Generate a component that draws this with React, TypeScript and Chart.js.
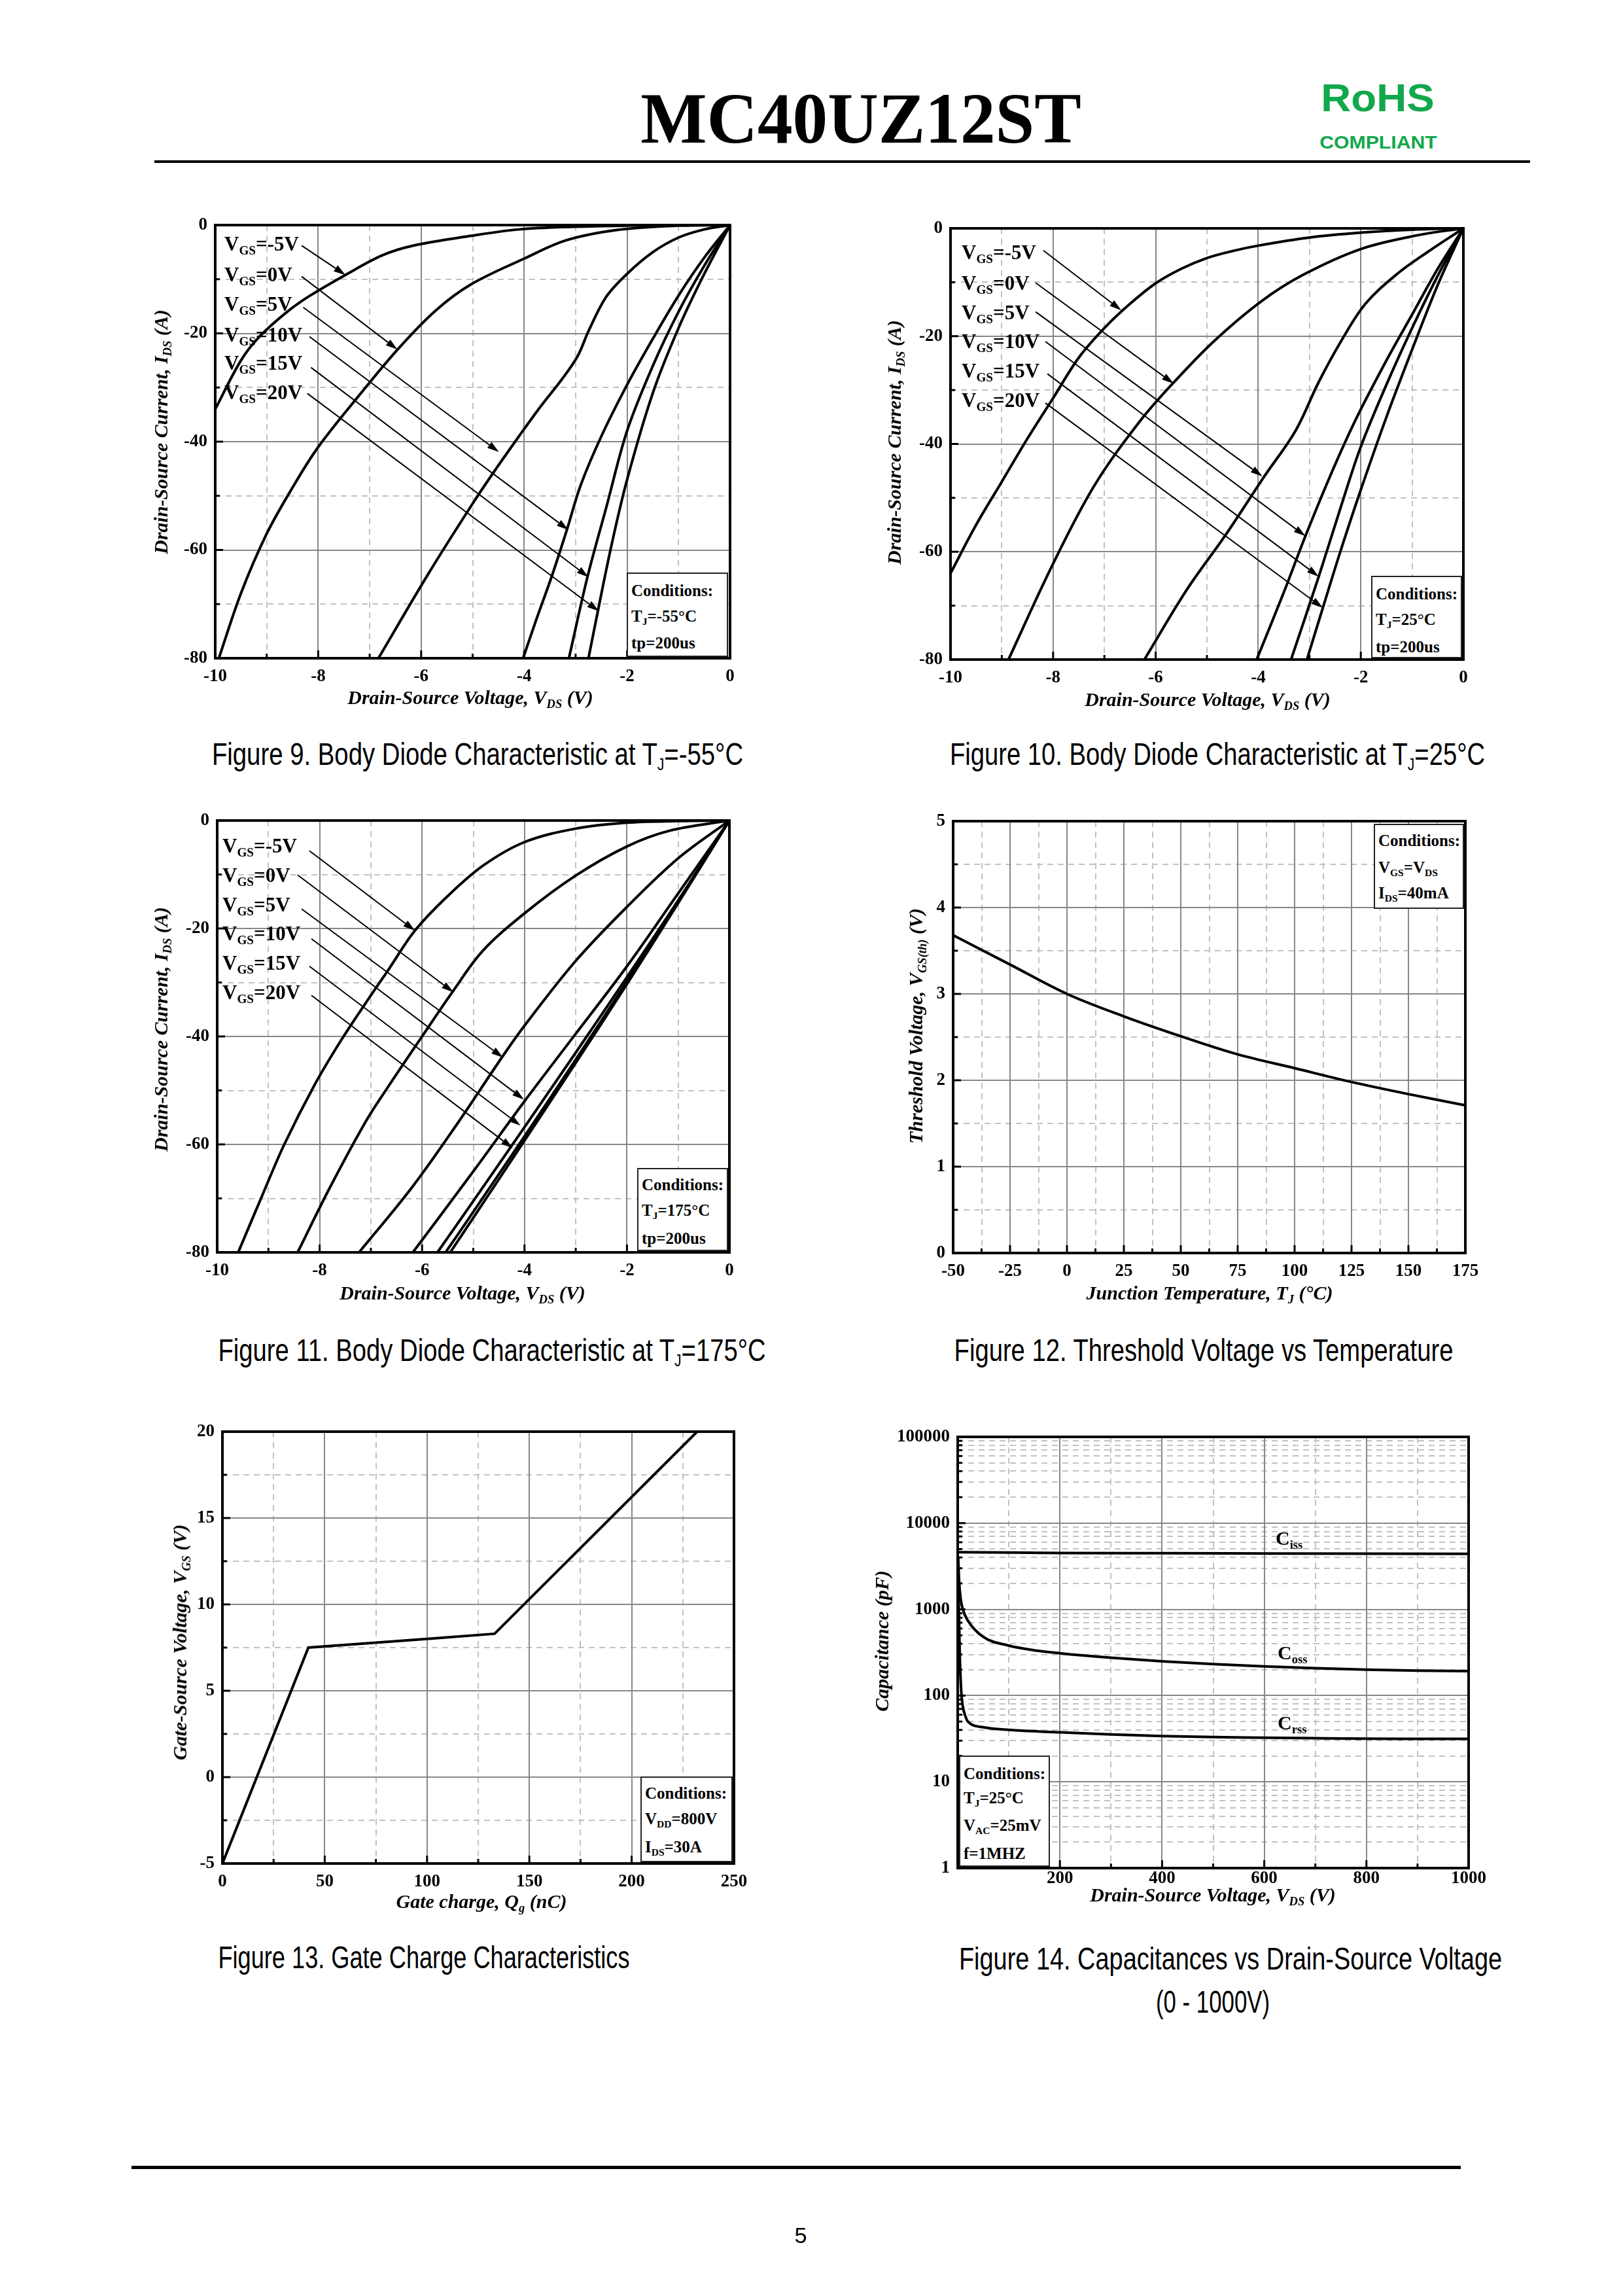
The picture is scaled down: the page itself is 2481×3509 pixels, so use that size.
import React, { useEffect, useLayoutEffect, useRef, useState } from 'react';
import { Chart, registerables } from 'chart.js';
Chart.register(...registerables);

type Pt = [number, number];

// ---------------- data ----------------
const BD_X_TICKS = [-10, -8, -6, -4, -2, 0];
const BD_X_MINOR = [-9, -7, -5, -3, -1];
const BD_Y_TICKS = [0, -20, -40, -60, -80];
const BD_Y_MINOR = [-10, -30, -50, -70];
const VGS_LABELS = ['-5V', '0V', '5V', '10V', '15V', '20V'];

// Figure 9 (Tj = -55 C)
const F9_VGS_M5: Pt[] = [[-10, -34], [-9.5, -25], [-9.14, -20.6], [-8.6, -16], [-8.17, -13.1], [-7.47, -9.2], [-6.76, -5.6], [-6.16, -3.8], [-5.04, -2.0], [-4.1, -0.8], [-3, -0.3], [-2, -0.1], [-1, -0.03], [0, 0]];
const F9_VGS_0: Pt[] = [[-9.93, -80], [-9.5, -68], [-9, -57], [-8.5, -48.5], [-8, -41], [-7.2, -31.4], [-6.46, -23], [-5.72, -15.8], [-5.04, -11], [-4, -6.2], [-3.18, -2.8], [-2.2, -0.9], [-1, -0.1], [0, 0]];
const F9_VGS_5: Pt[] = [[-6.83, -80], [-5.86, -64.4], [-4.97, -51], [-4.53, -44.8], [-4.1, -39], [-3.68, -33.5], [-3.26, -28.4], [-2.96, -24.2], [-2.75, -19.6], [-2.41, -13.3], [-2, -9], [-1.5, -5], [-1, -2.3], [-0.5, -0.8], [0, 0]];
const F9_VGS_10: Pt[] = [[-4.02, -80], [-3.75, -72.5], [-3.45, -64.5], [-3.17, -56.3], [-2.9, -48], [-2.5, -39], [-2, -29.5], [-1.5, -21], [-1, -13], [-0.5, -6], [0, 0]];
const F9_VGS_15: Pt[] = [[-3.13, -80], [-2.77, -65], [-2.4, -52], [-2, -38], [-1.5, -26], [-1, -16], [-0.5, -7.5], [0, 0]];
const F9_VGS_20: Pt[] = [[-2.75, -80], [-2.54, -70], [-2.3, -59], [-2, -47], [-1.5, -31], [-1, -19], [-0.5, -9], [0, 0]];
const F9_ARROWS = [[-8.32, -3.8, -7.47, -9.2], [-8.32, -9.5, -6.46, -23.0], [-8.29, -15.2, -4.49, -41.9], [-8.17, -20.6, -3.14, -56.3], [-8.14, -26.3, -2.75, -65], [-8.21, -31.1, -2.55, -71.3]];

// Figure 10 (Tj = 25 C)
const F10_VGS_M5: Pt[] = [[-10, -64], [-9.5, -55], [-9, -47], [-8.5, -39], [-8, -31.5], [-7.5, -24], [-7, -18.5], [-6.5, -14], [-6, -10.2], [-5.5, -7.5], [-5, -5.5], [-4.5, -4.2], [-4, -3.2], [-3, -1.7], [-2, -0.8], [-1, -0.25], [0, 0]];
const F10_VGS_0: Pt[] = [[-8.87, -80], [-8.03, -62.8], [-7.2, -47.8], [-6.3, -35.7], [-5.62, -28.3], [-4.86, -20.9], [-3.95, -13.6], [-3.12, -8.6], [-1.99, -3.8], [-0.85, -1.2], [0, 0]];
const F10_VGS_5: Pt[] = [[-6.22, -80], [-5.39, -67], [-4.63, -56.8], [-3.88, -46], [-3.27, -37.5], [-2.82, -28.5], [-2.37, -20.7], [-1.91, -14], [-1.31, -8.6], [-0.7, -4.4], [0, 0]];
const F10_VGS_10: Pt[] = [[-4.03, -80], [-3.5, -67.5], [-3.08, -57.1], [-2.6, -46], [-2.1, -35.5], [-1.5, -24.5], [-1, -16], [-0.5, -7.5], [0, 0]];
const F10_VGS_15: Pt[] = [[-3.36, -80], [-2.82, -64.6], [-2.4, -52], [-2, -40.5], [-1.5, -29], [-1, -18.5], [-0.5, -8.8], [0, 0]];
const F10_VGS_20: Pt[] = [[-3.05, -80], [-2.74, -70.4], [-2.4, -60], [-2, -48.5], [-1.5, -35], [-1, -22.5], [-0.5, -10.5], [0, 0]];
const F10_ARROWS = [[-8.19, -4.1, -6.67, -15.2], [-8.34, -10.1, -5.65, -28.8], [-8.34, -15.5, -3.92, -46], [-8.15, -21, -3.08, -57.1], [-8.11, -27, -2.82, -64.6], [-8.15, -32.4, -2.74, -70.4]];

// Figure 11 (Tj = 175 C)
const F11_VGS_M5: Pt[] = [[-9.59, -80], [-9.1, -69], [-8.69, -60], [-8.1, -49], [-7.6, -41], [-7.1, -33.8], [-6.64, -27.4], [-6.14, -20.4], [-5.5, -14], [-4.8, -8.3], [-4, -4], [-3, -1.5], [-2, -0.4], [-1, -0.1], [0, 0]];
const F11_VGS_0: Pt[] = [[-8.43, -80], [-7.8, -68], [-7.09, -55.6], [-6.64, -49], [-6, -40], [-5.41, -31.8], [-4.82, -24.2], [-4, -17.2], [-3, -10.2], [-2, -4.8], [-1.17, -1.9], [0, 0]];
const F11_VGS_5: Pt[] = [[-7.23, -80], [-6.2, -68], [-5.3, -56], [-4.45, -44], [-4, -38], [-3, -26], [-2, -16], [-1, -7], [0, 0]];
const F11_VGS_10: Pt[] = [[-6.18, -80], [-5, -65], [-4, -52], [-3, -39.5], [-2, -27], [-1, -13.5], [0, 0]];
const F11_VGS_15: Pt[] = [[-5.7, -80], [-5, -70.5], [-4, -56.8], [-3, -43], [-2, -29], [-1, -14.8], [0, 0]];
const F11_VGS_20: Pt[] = [[-5.54, -80], [-5, -72.5], [-4, -58.5], [-3, -44.3], [-2, -29.8], [-1, -15.1], [0, 0]];
const F11_VGS_20B: Pt[] = [[-5.45, -80], [-5, -73.6], [-4, -59.3], [-3, -44.9], [-2, -30.3], [-1, -15.3], [0, 0]];
const F11_ARROWS = [[-8.2, -5.6, -6.14, -20.4], [-8.43, -10.1, -5.39, -31.8], [-8.35, -16.4, -4.42, -43.9], [-8.16, -21.9, -4.01, -51.7], [-8.2, -27, -4.08, -56.5], [-8.16, -32.4, -4.23, -60.7]];

// Figure 12 threshold voltage
const F12_TEMP = [-50, -25, 0, 25, 50, 75, 100, 125, 150, 175];
const F12_VTH = [3.68, 3.34, 3.0, 2.74, 2.51, 2.3, 2.14, 1.98, 1.84, 1.71];
const F12_X_TICKS = [-50, -25, 0, 25, 50, 75, 100, 125, 150, 175];
const F12_X_MINOR = [-37.5, -12.5, 12.5, 37.5, 62.5, 87.5, 112.5, 137.5, 162.5];
const F12_Y_TICKS = [0, 1, 2, 3, 4, 5];
const F12_Y_MINOR = [0.5, 1.5, 2.5, 3.5, 4.5];

// Figure 13 gate charge
const F13_QG = [0, 42, 100, 133, 232];
const F13_VGS = [-5, 7.5, 8.0, 8.3, 20];
const F13_X_TICKS = [0, 50, 100, 150, 200, 250];
const F13_X_MINOR = [25, 75, 125, 175, 225];
const F13_Y_TICKS = [-5, 0, 5, 10, 15, 20];
const F13_Y_MINOR = [-2.5, 2.5, 7.5, 12.5, 17.5];

// Figure 14 capacitances
const F14_V_CISS = [1, 100, 200, 400, 600, 800, 1000];
const F14_CISS = [4600, 4550, 4500, 4480, 4450, 4420, 4400];
const F14_V_COSS = [1, 3, 6, 10, 20, 50, 100, 150, 200, 300, 400, 500, 600, 700, 800, 900, 1000];
const F14_COSS = [4000, 2000, 1300, 1000, 740, 480, 380, 335, 310, 275, 250, 232, 218, 208, 200, 195, 192];
const F14_V_CRSS = [1, 2, 4, 7, 10, 15, 20, 50, 100, 200, 300, 400, 500, 600, 700, 800, 900, 1000];
const F14_CRSS = [3500, 1200, 300, 110, 75, 58, 50, 43, 40, 37.5, 35.5, 34, 33, 32.5, 32, 31.6, 31.5, 31.5];
const F14_X_TICKS = [200, 400, 600, 800, 1000];
const F14_X_MINOR = [100, 300, 500, 700, 900];
const F14_Y_TICKS = [1, 10, 100, 1000, 10000, 100000];
const F14_Y_MINOR = [1, 10, 100, 1000, 10000].flatMap((d) => [2, 3, 4, 5, 6, 7, 8, 9].map((m) => m * d));

// ---------------- helpers ----------------
const SERIF = '"Liberation Serif", "Times New Roman", Times, serif';
const SANS = '"Liberation Sans", Arial, Helvetica, sans-serif';
const NARROW = '"Liberation Sans Narrow", "Arial Narrow", "Liberation Sans", Arial, sans-serif';

const PADL = 130, PADR = 40, PADT = 30, PADB = 60;

type Axis = { type?: 'linear' | 'logarithmic'; min: number; max: number; ticks: number[]; minor: number[]; pad: number };
type Series = { pts: Pt[]; mode: 'spline' | 'mono' | 'straight' };
type Cfg = { rect: [number, number, number, number]; x: Axis; y: Axis; series: Series[]; arrows?: number[][] };

const toPts = (xs: number[], ys: number[]): Pt[] => xs.map((x, i) => [x, ys[i]] as Pt);

function PlotChart({ cfg }: { cfg: Cfg }) {
  const ref = useRef<HTMLCanvasElement>(null);
  const [l, t, r, b] = cfg.rect;
  const W = r - l + PADL + PADR;
  const H = b - t + PADT + PADB;
  useEffect(() => {
    const canvas = ref.current;
    if (!canvas) return;
    const seg = (ctx: any, x1: number, y1: number, x2: number, y2: number) => {
      ctx.beginPath(); ctx.moveTo(x1, y1); ctx.lineTo(x2, y2); ctx.stroke();
    };
    const decor = {
      id: 'decor',
      beforeDatasetsDraw(chart: any) {
        const { ctx, chartArea: ca } = chart;
        const xs = chart.scales.x, ys = chart.scales.y;
        ctx.save();
        ctx.lineWidth = 2;
        ctx.setLineDash([9, 7]);
        ctx.strokeStyle = '#c2c2c2';
        cfg.x.minor.forEach((v) => { const p = Math.round(xs.getPixelForValue(v)); seg(ctx, p, ca.top, p, ca.bottom); });
        cfg.y.minor.forEach((v) => { const p = Math.round(ys.getPixelForValue(v)); seg(ctx, ca.left, p, ca.right, p); });
        ctx.setLineDash([]);
        ctx.strokeStyle = '#878787';
        cfg.x.ticks.filter((v) => v > cfg.x.min && v < cfg.x.max).forEach((v) => { const p = Math.round(xs.getPixelForValue(v)); seg(ctx, p, ca.top, p, ca.bottom); });
        cfg.y.ticks.filter((v) => v > cfg.y.min && v < cfg.y.max).forEach((v) => { const p = Math.round(ys.getPixelForValue(v)); seg(ctx, ca.left, p, ca.right, p); });
        ctx.restore();
      },
      afterDatasetsDraw(chart: any) {
        const { ctx, chartArea: ca } = chart;
        const xs = chart.scales.x, ys = chart.scales.y;
        ctx.save();
        ctx.strokeStyle = '#000';
        ctx.fillStyle = '#000';
        ctx.lineWidth = 2;
        (cfg.arrows || []).forEach(([x1, y1, x2, y2]) => {
          const ax = xs.getPixelForValue(x1), ay = ys.getPixelForValue(y1);
          const bx = xs.getPixelForValue(x2), by = ys.getPixelForValue(y2);
          const dx = bx - ax, dy = by - ay, len = Math.hypot(dx, dy);
          const ux = dx / len, uy = dy / len;
          const hl = 18, hw = 5.5;
          const cx = bx - ux * hl, cy = by - uy * hl;
          seg(ctx, ax, ay, cx, cy);
          ctx.beginPath();
          ctx.moveTo(bx, by);
          ctx.lineTo(cx - uy * hw, cy + ux * hw);
          ctx.lineTo(cx + uy * hw, cy - ux * hw);
          ctx.closePath();
          ctx.fill();
        });
        ctx.lineWidth = 3;
        const tx = (v: number, len: number) => { const p = xs.getPixelForValue(v); seg(ctx, p, ca.bottom, p, ca.bottom - len); };
        const ty = (v: number, len: number) => { const p = ys.getPixelForValue(v); seg(ctx, ca.left, p, ca.left + len, p); };
        cfg.x.ticks.forEach((v) => tx(v, 12));
        cfg.x.minor.forEach((v) => tx(v, 7));
        cfg.y.ticks.forEach((v) => ty(v, 12));
        cfg.y.minor.forEach((v) => ty(v, 7));
        ctx.lineWidth = 4;
        ctx.strokeRect(ca.left, ca.top, ca.right - ca.left, ca.bottom - ca.top);
        ctx.restore();
      },
    };
    const mkScale = (a: Axis, isX: boolean): any => ({
      type: a.type || 'linear',
      position: isX ? 'bottom' : 'left',
      min: a.min,
      max: a.max,
      grid: { display: false, drawTicks: false },
      border: { display: false },
      ticks: {
        font: { family: 'Liberation Serif', size: 27, weight: 'bold' },
        color: '#000',
        padding: a.pad,
        autoSkip: false,
        maxRotation: 0,
        minRotation: 0,
        callback: (v: any) => String(v),
      },
      afterBuildTicks: (ax: any) => { ax.ticks = a.ticks.map((v) => ({ value: v })); },
      afterFit: (ax: any) => { if (isX) ax.height = PADB; else ax.width = PADL; },
    });
    const datasets = cfg.series.map((s) => ({
      data: [...s.pts].sort((p, q) => p[0] - q[0]).map(([x, y]) => ({ x, y })),
      borderColor: '#000',
      borderWidth: 4,
      pointRadius: 0,
      pointHoverRadius: 0,
      fill: false,
      tension: s.mode === 'straight' ? 0 : 0.35,
      cubicInterpolationMode: s.mode === 'mono' ? 'monotone' : 'default',
      borderJoinStyle: 'round',
      borderCapStyle: 'round',
    }));
    const chart = new Chart(canvas, {
      type: 'line',
      data: { datasets } as any,
      options: {
        animation: false,
        responsive: false,
        maintainAspectRatio: false,
        devicePixelRatio: 1,
        events: [],
        layout: { padding: { left: 0, right: PADR, top: PADT, bottom: 0 } },
        plugins: { legend: { display: false }, tooltip: { enabled: false }, title: { display: false } },
        scales: { x: mkScale(cfg.x, true), y: mkScale(cfg.y, false) },
      } as any,
      plugins: [decor as any],
    });
    return () => chart.destroy();
  }, []);
  return (
    <canvas
      ref={ref}
      width={W}
      height={H}
      style={{ position: 'absolute', left: l - PADL, top: t - PADT, width: W, height: H }}
    />
  );
}

function Txt({ x, y, size, anchor = 'c', rot = 0, italic = false, bold = true, family = SERIF, color = '#000', children }: any) {
  const tx = anchor === 'l' ? '0%' : anchor === 'r' ? '-100%' : '-50%';
  return (
    <div
      style={{
        position: 'absolute', left: x, top: y,
        transform: `translate(${tx},-50%)` + (rot ? ` rotate(${rot}deg)` : ''),
        fontFamily: family, fontSize: size, fontWeight: bold ? 700 : 400,
        fontStyle: italic ? 'italic' : 'normal', lineHeight: 1, whiteSpace: 'nowrap', color,
      }}
    >
      {children}
    </div>
  );
}

function Fit({ x, y, w, size, family, weight = 400, color = '#000', children }: any) {
  const ref = useRef<HTMLDivElement>(null);
  const [s, setS] = useState(1);
  useLayoutEffect(() => {
    const el = ref.current;
    if (el && el.offsetWidth > 0) setS(w / el.offsetWidth);
  }, [w]);
  return (
    <div
      ref={ref}
      style={{
        position: 'absolute', left: x, top: y,
        transform: `translate(-50%,-50%) scaleX(${s})`,
        fontFamily: family, fontSize: size, fontWeight: weight, lineHeight: 1, whiteSpace: 'nowrap', color,
      }}
    >
      {children}
    </div>
  );
}

const Sub = ({ children, k = 0.62 }: any) => (
  <span style={{ fontSize: `${k}em`, position: 'relative', top: '0.32em' }}>{children}</span>
);

function CondBox({ box, rows }: { box: number[]; rows: [number, any][] }) {
  const [l, t, r, b] = box;
  return (
    <>
      <div style={{ position: 'absolute', left: l, top: t, width: r - l, height: b - t, boxSizing: 'border-box', border: '2px solid #222', background: '#fff' }} />
      {rows.map(([y, c], i) => (
        <Txt key={i} x={l + 7} y={y} size={25} anchor="l">{c}</Txt>
      ))}
    </>
  );
}

function VgsLabels({ left, ys }: { left: number; ys: number[] }) {
  return (
    <>
      {VGS_LABELS.map((lab, i) => (
        <Txt key={lab} x={left} y={ys[i]} size={31} anchor="l">
          V<Sub>GS</Sub>={lab}
        </Txt>
      ))}
    </>
  );
}

const AxT = ({ x, y, rot = 0, children }: any) => (
  <Txt x={x} y={y} size={30} italic rot={rot}>{children}</Txt>
);

const bdAxes = (pad: number) => ({
  x: { min: -10, max: 0, ticks: BD_X_TICKS, minor: BD_X_MINOR, pad },
  y: { min: -80, max: 0, ticks: BD_Y_TICKS, minor: BD_Y_MINOR, pad: 12 },
});

const CFG9: Cfg = {
  rect: [329, 344, 1116, 1006], ...bdAxes(12),
  series: [F9_VGS_M5, F9_VGS_0, F9_VGS_5, F9_VGS_10, F9_VGS_15, F9_VGS_20].map((pts) => ({ pts, mode: 'spline' as const })),
  arrows: F9_ARROWS,
};
const CFG10: Cfg = {
  rect: [1453, 349, 2237, 1008], ...bdAxes(12),
  series: [F10_VGS_M5, F10_VGS_0, F10_VGS_5, F10_VGS_10, F10_VGS_15, F10_VGS_20].map((pts) => ({ pts, mode: 'spline' as const })),
  arrows: F10_ARROWS,
};
const CFG11: Cfg = {
  rect: [332, 1254, 1115, 1914], ...bdAxes(12),
  series: [F11_VGS_M5, F11_VGS_0, F11_VGS_5, F11_VGS_10, F11_VGS_15, F11_VGS_20, F11_VGS_20B].map((pts) => ({ pts, mode: 'spline' as const })),
  arrows: F11_ARROWS,
};
const CFG12: Cfg = {
  rect: [1457, 1255, 2240, 1915],
  x: { min: -50, max: 175, ticks: F12_X_TICKS, minor: F12_X_MINOR, pad: 12 },
  y: { min: 0, max: 5, ticks: F12_Y_TICKS, minor: F12_Y_MINOR, pad: 12 },
  series: [{ pts: toPts(F12_TEMP, F12_VTH), mode: 'spline' }],
};
const CFG13: Cfg = {
  rect: [340, 2188, 1122, 2848],
  x: { min: 0, max: 250, ticks: F13_X_TICKS, minor: F13_X_MINOR, pad: 12 },
  y: { min: -5, max: 20, ticks: F13_Y_TICKS, minor: F13_Y_MINOR, pad: 12 },
  series: [{ pts: toPts(F13_QG, F13_VGS), mode: 'straight' }],
};
const CFG14: Cfg = {
  rect: [1464, 2196, 2245, 2855],
  x: { min: 0, max: 1000, ticks: F14_X_TICKS, minor: F14_X_MINOR, pad: 0 },
  y: { type: 'logarithmic', min: 1, max: 100000, ticks: F14_Y_TICKS, minor: F14_Y_MINOR, pad: 12 },
  series: [
    { pts: toPts(F14_V_CISS, F14_CISS), mode: 'mono' },
    { pts: toPts(F14_V_COSS, F14_COSS), mode: 'mono' },
    { pts: toPts(F14_V_CRSS, F14_CRSS), mode: 'mono' },
  ],
};

const CAP = 48;

export default function App() {
  return (
    <div style={{ position: 'absolute', left: 0, top: 0, width: 2481, height: 3509, background: '#fff', overflow: 'hidden' }}>
      {/* header */}
      <Fit x={1316} y={181} w={674} size={110} family={SERIF} weight={700}>MC40UZ12ST</Fit>
      <Fit x={2106} y={150} w={173} size={60} family={SANS} weight={700} color="#12a84c">RoHS</Fit>
      <Fit x={2107} y={218} w={179} size={28} family={SANS} weight={700} color="#12a84c">COMPLIANT</Fit>
      <div style={{ position: 'absolute', left: 236, top: 245, width: 2103, height: 4, background: '#000' }} />

      {/* charts */}
      <PlotChart cfg={CFG9} />
      <PlotChart cfg={CFG10} />
      <PlotChart cfg={CFG11} />
      <PlotChart cfg={CFG12} />
      <PlotChart cfg={CFG13} />
      <PlotChart cfg={CFG14} />

      {/* Figure 9 texts */}
      <VgsLabels left={343} ys={[372, 419, 464, 511, 554, 599]} />
      <CondBox box={[958, 875, 1113, 1004]} rows={[[902, 'Conditions:'], [941, <>T<Sub>J</Sub>=-55°C</>], [982, 'tp=200us']]} />
      <AxT x={719} y={1066}>Drain-Source Voltage, V<Sub>DS</Sub> (V)</AxT>
      <AxT x={246} y={660} rot={-90}>Drain-Source Current, I<Sub>DS</Sub> (A)</AxT>

      {/* Figure 10 texts */}
      <VgsLabels left={1470} ys={[385, 432, 477, 521, 566, 611]} />
      <CondBox box={[2096, 880, 2235, 1006]} rows={[[907, 'Conditions:'], [946, <>T<Sub>J</Sub>=25°C</>], [988, 'tp=200us']]} />
      <AxT x={1846} y={1069}>Drain-Source Voltage, V<Sub>DS</Sub> (V)</AxT>
      <AxT x={1367} y={676} rot={-90}>Drain-Source Current, I<Sub>DS</Sub> (A)</AxT>

      {/* Figure 11 texts */}
      <VgsLabels left={340} ys={[1292, 1337, 1382, 1426, 1471, 1516]} />
      <CondBox box={[974, 1785, 1113, 1912]} rows={[[1810, 'Conditions:'], [1849, <>T<Sub>J</Sub>=175°C</>], [1892, 'tp=200us']]} />
      <AxT x={707} y={1976}>Drain-Source Voltage, V<Sub>DS</Sub> (V)</AxT>
      <AxT x={246} y={1573} rot={-90}>Drain-Source Current, I<Sub>DS</Sub> (A)</AxT>

      {/* Figure 12 texts */}
      <CondBox box={[2100, 1259, 2238, 1389]} rows={[[1284, 'Conditions:'], [1325, <>V<Sub>GS</Sub>=V<Sub>DS</Sub></>], [1364, <>I<Sub>DS</Sub>=40mA</>]]} />
      <AxT x={1849} y={1976}>Junction Temperature, T<Sub>J</Sub> (°C)</AxT>
      <AxT x={1400} y={1568} rot={-90}>Threshold Voltage, V<Sub>GS(th)</Sub> (V)</AxT>

      {/* Figure 13 texts */}
      <CondBox box={[979, 2715, 1120, 2846]} rows={[[2740, 'Conditions:'], [2779, <>V<Sub>DD</Sub>=800V</>], [2822, <>I<Sub>DS</Sub>=30A</>]]} />
      <AxT x={736} y={2906}>Gate charge, Q<Sub>g</Sub> (nC)</AxT>
      <AxT x={275} y={2510} rot={-90}>Gate-Source Voltage, V<Sub>GS</Sub> (V)</AxT>

      {/* Figure 14 texts */}
      <CondBox box={[1466, 2683, 1605, 2853]} rows={[[2710, 'Conditions:'], [2747, <>T<Sub>J</Sub>=25°C</>], [2789, <>V<Sub>AC</Sub>=25mV</>], [2832, 'f=1MHZ']]} />
      <Txt x={1950} y={2351} size={30} anchor="l">C<Sub>iss</Sub></Txt>
      <Txt x={1953} y={2526} size={30} anchor="l">C<Sub>oss</Sub></Txt>
      <Txt x={1953} y={2633} size={30} anchor="l">C<Sub>rss</Sub></Txt>
      <AxT x={1854} y={2896}>Drain-Source Voltage, V<Sub>DS</Sub> (V)</AxT>
      <AxT x={1348} y={2508} rot={-90}>Capacitance (pF)</AxT>

      {/* captions */}
      <Fit x={730} y={1153} w={812} size={CAP} family={NARROW}>Figure 9. Body Diode Characteristic at T<Sub k={0.55}>J</Sub>=-55°C</Fit>
      <Fit x={1861} y={1153} w={818} size={CAP} family={NARROW}>Figure 10. Body Diode Characteristic at T<Sub k={0.55}>J</Sub>=25°C</Fit>
      <Fit x={752} y={2064} w={837} size={CAP} family={NARROW}>Figure 11. Body Diode Characteristic at T<Sub k={0.55}>J</Sub>=175°C</Fit>
      <Fit x={1840} y={2064} w={763} size={CAP} family={NARROW}>Figure 12. Threshold Voltage vs Temperature</Fit>
      <Fit x={648} y={2992} w={629} size={CAP} family={NARROW}>Figure 13. Gate Charge Characteristics</Fit>
      <Fit x={1881} y={2994} w={830} size={CAP} family={NARROW}>Figure 14. Capacitances vs Drain-Source Voltage</Fit>
      <Fit x={1854} y={3060} w={174} size={CAP} family={NARROW}>(0 - 1000V)</Fit>

      {/* footer */}
      <div style={{ position: 'absolute', left: 201, top: 3310, width: 2032, height: 5, background: '#000' }} />
      <Txt x={1224} y={3416} size={34} bold={false} family={NARROW}>5</Txt>
    </div>
  );
}
